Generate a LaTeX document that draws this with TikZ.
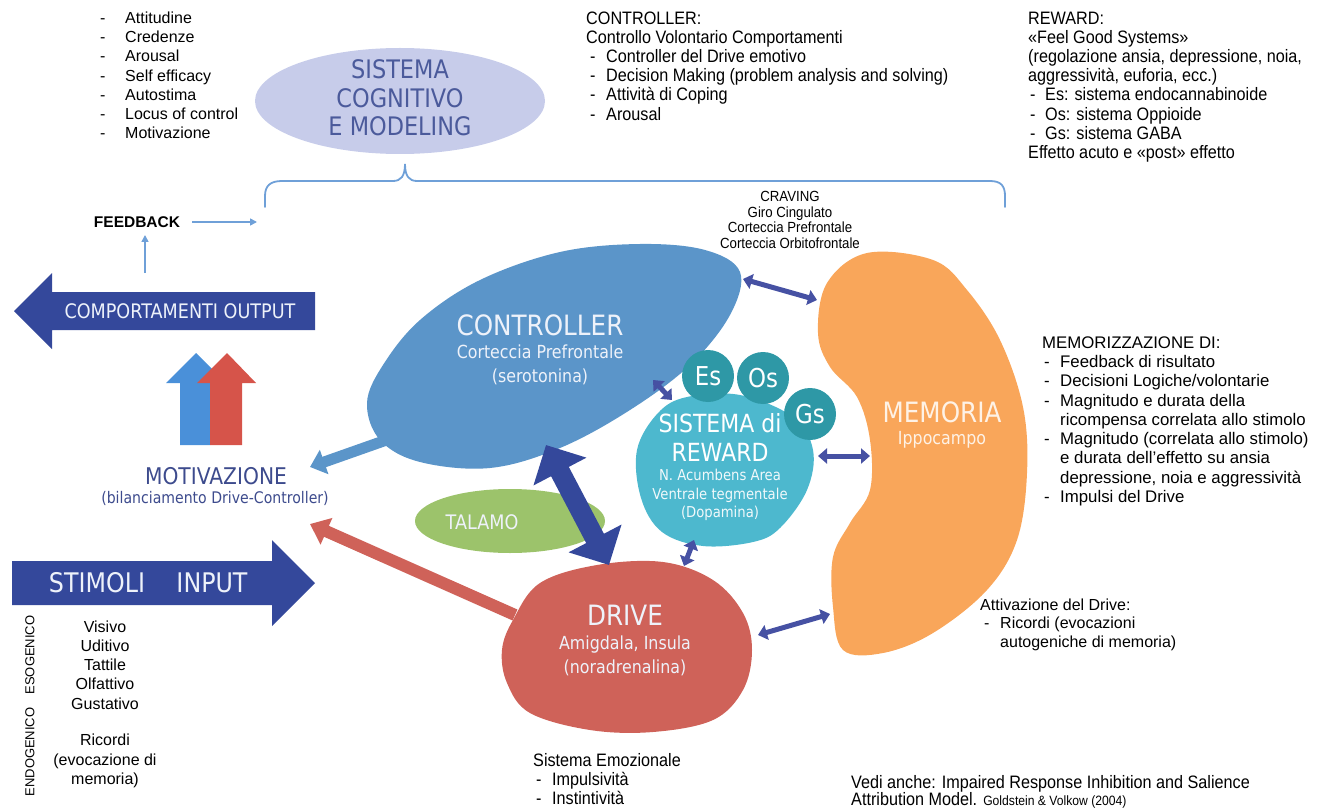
\documentclass[tikz,border=0pt]{standalone}
\usepackage{fontspec}
\setmainfont{Liberation Sans}
\newfontfamily\narrowfont[FakeStretch=0.9]{Liberation Sans}
\newfontfamily\lblfont[FakeStretch=0.88]{DejaVu Sans}
\usetikzlibrary{arrows.meta}

\definecolor{cogfill}{HTML}{C7CCEA}
\definecolor{cogtext}{HTML}{4B5A9B}
\definecolor{ctrlblue}{HTML}{5B95C9}
\definecolor{rewcyan}{HTML}{4DB8CE}
\definecolor{rewteal}{HTML}{2E98A6}
\definecolor{memorange}{HTML}{F9A65A}
\definecolor{drivered}{HTML}{CF6259}
\definecolor{talgreen}{HTML}{9CC36B}
\definecolor{darkarrow}{HTML}{34489B}
\definecolor{smallarrow}{HTML}{4651A3}
\definecolor{lightline}{HTML}{6FA0D8}
\definecolor{motblue}{HTML}{4A90D9}
\definecolor{motred}{HTML}{D6544A}
\definecolor{mottext}{HTML}{3D4B8D}
\definecolor{paletext}{HTML}{EEF2FA}

\tikzset{
  lst/.style={font=\fontsize{16}{19}\selectfont, anchor=base west, inner sep=0pt},
  nlst/.style={font=\narrowfont\fontsize{18}{19}\selectfont, anchor=base west, inner sep=0pt},
  biglbl/.style={font=\lblfont\fontsize{28}{30}\selectfont, text=paletext, inner sep=0pt},
  sublbl/.style={font=\lblfont\fontsize{18}{24}\selectfont, text=paletext, inner sep=0pt, align=center},
  twoway/.style={smallarrow, line width=5pt, {Triangle[length=9pt,width=15pt]}-{Triangle[length=9pt,width=15pt]}},
  fbarrow/.style={lightline, line width=1.6pt, -{Triangle[length=7pt,width=7pt]}}
}

\begin{document}
\begin{tikzpicture}[x=1pt,y=-1pt]
\useasboundingbox (0,0) rectangle (1324,810);

% sistema cognitivo
\fill[cogfill] (400,101) ellipse [x radius=145, y radius=53];
\node[font=\lblfont\fontsize{25.5}{28.5}\selectfont, text=cogtext, align=center] (cog) at (400,98) {SISTEMA\\COGNITIVO\\E MODELING};

\foreach \t [count=\i] in {Attitudine, Credenze, Arousal, Self efficacy, Autostima, Locus of control, Motivazione}{
  \node[lst] (attd\i) at (100,23.5+19.17*\i-19.17) {-};
  \node[lst] (att\i) at (125,23.5+19.17*\i-19.17) {\t};
}

% controller text
\node[nlst] (ctlh) at (586,24.2) {CONTROLLER:};
\node[nlst] (ctls) at (586,43.4) {Controllo Volontario Comportamenti};
\foreach \t [count=\i] in {Controller del Drive emotivo, {Decision Making (problem analysis and solving)}, Attività di Coping, Arousal}{
  \node[nlst] (ctld\i) at (590,62.6+19.2*\i-19.2) {-};
  \node[nlst] (ctl\i) at (606,62.6+19.2*\i-19.2) {\t};
}

% reward text
\node[nlst] (rwh) at (1028,24.2) {REWARD:};
\node[nlst] (rws1) at (1028,43.4) {«Feel Good Systems»};
\node[nlst] (rws2) at (1028,62.6) {(regolazione ansia, depressione, noia,};
\node[nlst] (rws3) at (1028,81.8) {aggressività, euforia, ecc.)};
\foreach \t [count=\i] in {Es: sistema endocannabinoide, Os: sistema Oppioide, Gs: sistema GABA}{
  \node[nlst] (rwd\i) at (1030,101+19.2*\i-19.2) {-};
  \node[nlst] (rw\i) at (1045,101+19.2*\i-19.2) {\t};
}
\node[nlst] (rwe) at (1028,158.6) {Effetto acuto e «post» effetto};

% graffa
\draw[lightline, line width=1.8pt, line cap=round]
  (265,207) -- (265,196) .. controls (265,186) and (270,181) .. (282,181)
  -- (393,181) .. controls (401,181) and (405,176) .. (405,164)
  .. controls (405,176) and (409,181) .. (417,181)
  -- (990,181) .. controls (1001,181) and (1005,186) .. (1005,196) -- (1005,207);

\node[font=\narrowfont\fontsize{14.7}{15.7}\selectfont, align=center] (crav) at (790,220) {CRAVING\\Giro Cingulato\\Corteccia Prefrontale\\Corteccia Orbitofrontale};

% feedback
\node[font=\bfseries\fontsize{15.5}{18}\selectfont, inner sep=0pt] (fb) at (137,222) {FEEDBACK};
\coordinate (fbend) at (257,222);
\coordinate (fbfoot) at (145,273);
\coordinate (fbtop) at (145,235);
\draw[fbarrow] ([xshift=12pt]fb.east) -- (fbend);
\draw[fbarrow] (fbfoot) -- (fbtop);

% frecce grandi
\fill[darkarrow] (315,292) -- (52,292) -- (52,273) -- (14,311) -- (52,349) -- (52,330) -- (315,330) -- cycle;
\node[font=\lblfont\fontsize{20}{22}\selectfont, text=paletext] (outp) at (180,311) {COMPORTAMENTI OUTPUT};
\fill[darkarrow] (12,561) -- (272,561) -- (272,540) -- (315,583) -- (272,626) -- (272,605) -- (12,605) -- cycle;
\node[font=\lblfont\fontsize{27}{29}\selectfont, text=paletext] (stim) at (97,583) {STIMOLI};
\node[font=\lblfont\fontsize{27}{29}\selectfont, text=paletext] (inp) at (212,583) {INPUT};

% motivazione
\fill[motblue] (180,445) -- (180,383) -- (166,383) -- (196,353) -- (226,383) -- (210,383) -- (210,445) -- cycle;
\fill[motred] (210,445) -- (210,383) -- (197,383) -- (227,353) -- (256,383) -- (242,383) -- (242,445) -- cycle;
\node[font=\lblfont\fontsize{23}{25}\selectfont, text=mottext] (mot) at (216,476) {MOTIVAZIONE};
\node[font=\lblfont\fontsize{16}{18}\selectfont, text=mottext] (motsub) at (215,498) {(bilanciamento Drive-Controller)};
\coordinate (motin1) at (310,467);
\coordinate (motin2) at (310,524);

% talamo
\fill[talgreen] (510,521) ellipse [x radius=95, y radius=32];
\node[font=\lblfont\fontsize{20}{22}\selectfont, text=paletext] (tal) at (482,522) {TALAMO};

% controller
\coordinate (ctltail) at (395,437);
\draw[ctrlblue, line width=11pt, -{Triangle[length=15pt,width=25pt]}] (ctltail) -- (motin1);
\fill[ctrlblue] plot[smooth cycle, tension=0.6] coordinates {(367,403) (383,365) (420,320) (480,280) (560,252) (640,244) (705,250) (740,272) (730,315) (690,365) (630,410) (560,448) (490,468) (420,462) (380,440)};
\node[biglbl] (ctl) at (540,325) {CONTROLLER};
\node[sublbl] (ctlsub) at (540,365) {Corteccia Prefrontale\\(serotonina)};

% drive
\coordinate (drvtail) at (515,615);
\draw[drivered, line width=12pt, -{Triangle[length=18pt,width=28pt]}] (drvtail) -- (motin2);
\fill[drivered] plot[smooth cycle, tension=0.6] coordinates {(502,650) (513,620) (540,583) (597,565) (663,562) (713,580) (743,613) (752,650) (743,690) (713,720) (653,732) (590,730) (530,713) (507,683)};
\node[biglbl] (drv) at (625,615) {DRIVE};
\node[sublbl] (drvsub) at (625,656) {Amigdala, Insula\\(noradrenalina)};

% memoria
\fill[memorange] plot[smooth cycle, tension=0.6] coordinates {(827,283) (867,253) (933,260) (967,290) (1000,340) (1023,407) (1027,473) (1017,540) (987,590) (933,633) (883,653) (843,650) (833,607) (833,557) (850,523) (870,490) (870,440) (857,397) (830,367) (818,333)};
\node[biglbl, text=white!85!memorange] (mem) at (942,412) {MEMORIA};
\node[sublbl, text=white!85!memorange] (memsub) at (942,440) {Ippocampo};

% reward
\fill[rewcyan] plot[smooth cycle, tension=0.6] coordinates {(637,450) (658,413) (687,397) (740,395) (793,417) (813,450) (807,490) (780,528) (753,542) (703,546) (662,532) (641,498)};
\foreach \n/\x/\y in {Es/708/376, Os/763/378, Gs/810/414}{
  \fill[rewteal] (\x,\y) circle (26);
  \node[font=\lblfont\fontsize{26}{28}\selectfont, text=white] (c\n) at (\x,\y) {\n};
}
\node[font=\lblfont\fontsize{25}{29}\selectfont, text=white, align=center] (rew) at (720,437) {SISTEMA di\\REWARD};
\node[font=\lblfont\fontsize{15}{18.5}\selectfont, text=white!92!rewcyan, align=center] (rewsub) at (720,495) {N. Acumbens Area\\Ventrale tegmentale\\(Dopamina)};

% frecce doppie
\coordinate (biga) at (546,445);
\coordinate (bigb) at (609,565);
\draw[darkarrow, line width=20pt, {Triangle[length=30pt,width=58pt]}-{Triangle[length=30pt,width=58pt]}] (biga) -- (bigb);
\coordinate (crava) at (743,279);
\coordinate (cravb) at (817,300);
\draw[twoway] (crava) -- (cravb);
\coordinate (ctrwa) at (653,380);
\coordinate (ctrwb) at (672,400);
\draw[twoway] (ctrwa) -- (ctrwb);
\coordinate (rwmea) at (818,456);
\coordinate (rwmeb) at (870,456);
\draw[twoway] (rwmea) -- (rwmeb);
\coordinate (rwdra) at (694,540);
\coordinate (rwdrb) at (684,566);
\draw[twoway] (rwdra) -- (rwdrb);
\coordinate (drmea) at (758,635);
\coordinate (drmeb) at (830,614);
\draw[twoway] (drmea) -- (drmeb);

% memorizzazione
\node[lst, font=\fontsize{16.8}{19}\selectfont] (memh) at (1042,348.5) {MEMORIZZAZIONE DI:};
\foreach \t [count=\i] in {Feedback di risultato, Decisioni Logiche/volontarie, Magnitudo e durata della, ricompensa correlata allo stimolo, Magnitudo (correlata allo stimolo), e durata dell’effetto su ansia, {depressione, noia e aggressività}, Impulsi del Drive}{
  \node[lst, font=\fontsize{16.8}{19}\selectfont] (mm\i) at (1060,367.7+19.25*\i-19.25) {\t};
}
\foreach \i in {1,2,3,5,8}{
  \node[lst, font=\fontsize{16.8}{19}\selectfont] (mmd\i) at (1044,367.7+19.25*\i-19.25) {-};
}

% attivazione
\node[lst] (atth) at (980,610.5) {Attivazione del Drive:};
\node[lst] (attdash) at (984,628.5) {-};
\node[lst] (att1r) at (1000,628.5) {Ricordi (evocazioni};
\node[lst] (att2r) at (1000,647.5) {autogeniche di memoria)};

% stimoli
\node[font=\fontsize{16}{19.2}\selectfont, align=center] (stl1) at (105,665) {Visivo\\Uditivo\\Tattile\\Olfattivo\\Gustativo};
\node[font=\fontsize{16}{19.2}\selectfont, align=center] (stl2) at (105,761) {Ricordi\\(evocazione di\\memoria)};
\node[font=\fontsize{13}{15}\selectfont, rotate=90] (eso) at (30,655) {ESOGENICO};
\node[font=\fontsize{13}{15}\selectfont, rotate=90] (endo) at (30,752) {ENDOGENICO};

% sistema emozionale
\node[nlst] (emoh) at (533,766) {Sistema Emozionale};
\node[nlst] (emod1) at (536,785) {-};
\node[nlst] (emo1) at (552,785) {Impulsività};
\node[nlst] (emod2) at (536,804) {-};
\node[nlst] (emo2) at (552,804) {Instintività};

% vedi anche
\node[nlst] (ved1) at (851,788) {Vedi anche: Impaired Response Inhibition and Salience};
\node[nlst] (ved2) at (851,805.5) {Attribution Model. {\fontsize{13.5}{14}\selectfont Goldstein \& Volkow (2004)}};
\end{tikzpicture}
\end{document}
